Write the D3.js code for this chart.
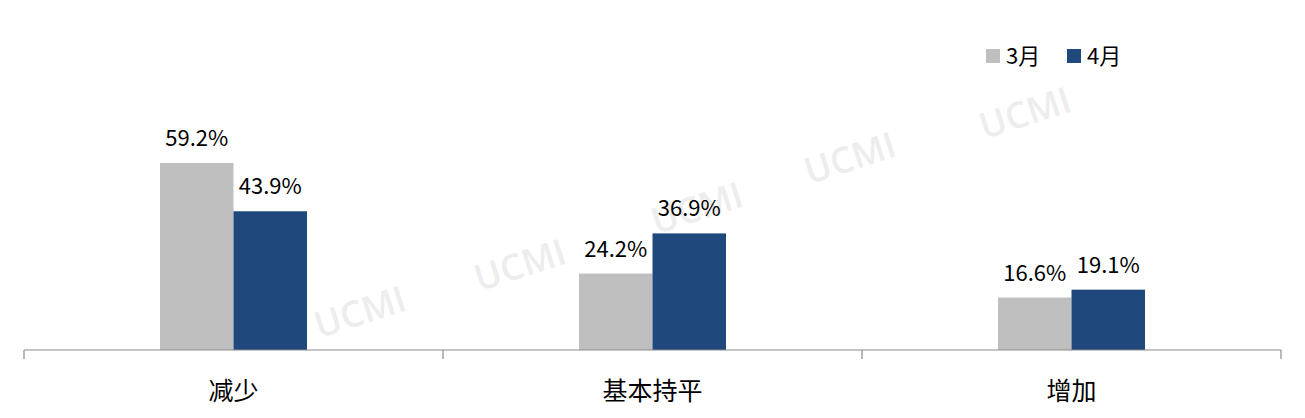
<!DOCTYPE html>
<html><head><meta charset="utf-8">
<script src="https://cdn.jsdelivr.net/npm/d3@7/dist/d3.min.js"></script>
<style>body{margin:0;background:#fff}svg{display:block}</style>
</head><body>
<script>
const categories = ["减少", "基本持平", "增加"];
const seriesNames = ["3月", "4月"];
const march = [59.2, 24.2, 16.6];
const april = [43.9, 36.9, 19.1];
const seriesColors = ["#bfbfbf", "#1f497d"];
const watermarks = ["UCMI", "UCMI", "UCMI", "UCMI", "UCMI"];

const W = 1305, H = 418;
const font = "'Microsoft YaHei','Noto Sans CJK SC','Noto Sans',sans-serif";
const svg = d3.select("body").append("svg").attr("width", W).attr("height", H);

// watermarks
const wmPos = [[360, 312], [520, 265], [697, 208], [850, 158], [1025, 113]];
svg.append("g").selectAll("text").data(watermarks).join("text")
  .attr("transform", (d, i) => `translate(${wmPos[i][0]},${wmPos[i][1]}) rotate(-18)`)
  .attr("text-anchor", "middle").attr("dy", "0.35em")
  .attr("font-family", "'Open Sans','DejaVu Sans',sans-serif").attr("font-weight", 600)
  .attr("font-size", 36).attr("fill", "#ededed").text(d => d);

const x0 = d3.scaleBand().domain(categories).range([24, 1281]).padding(0);
const cw = x0.bandwidth();
const x1 = d3.scaleBand().domain(seriesNames).range([cw / 2 - 73.5, cw / 2 + 73.5]).padding(0);
const y = d3.scaleLinear().domain([0, 100]).range([350, 34]);

const data = categories.map((c, i) => ({ cat: c, vals: [march[i], april[i]] }));
const g = svg.append("g");
const groups = g.selectAll("g.grp").data(data).join("g").attr("class", "grp")
  .attr("transform", d => `translate(${x0(d.cat)},0)`);
groups.selectAll("rect").data(d => d.vals.map((v, j) => ({ s: seriesNames[j], v, j })))
  .join("rect")
  .attr("x", d => x1(d.s)).attr("width", x1.bandwidth())
  .attr("y", d => y(d.v)).attr("height", d => y(0) - y(d.v))
  .attr("fill", d => seriesColors[d.j]);
groups.selectAll("text.val").data(d => d.vals.map((v, j) => ({ s: seriesNames[j], v, j })))
  .join("text").attr("class", "val")
  .attr("x", d => x1(d.s) + x1.bandwidth() / 2).attr("y", d => y(d.v) - 17)
  .attr("text-anchor", "middle").attr("font-family", font).attr("font-size", 22)
  .attr("fill", "#000").text(d => d.v.toFixed(1) + "%");

// axis
const axis = svg.append("g").attr("transform", `translate(0,${y(0)})`);
axis.append("line").attr("x1", 24).attr("x2", 1281).attr("stroke", "#8c8c8c").attr("stroke-width", 1.2);
const tickXs = categories.map(c => x0(c)).concat([x0(categories[categories.length - 1]) + cw]);
axis.selectAll("line.tk").data(tickXs).join("line").attr("class", "tk")
  .attr("x1", d => d).attr("x2", d => d).attr("y1", 0).attr("y2", 9)
  .attr("stroke", "#8c8c8c").attr("stroke-width", 1.2);
axis.selectAll("text").data(categories).join("text")
  .attr("x", d => x0(d) + cw / 2).attr("y", 50)
  .attr("text-anchor", "middle").attr("font-family", font).attr("font-size", 25)
  .attr("fill", "#000").text(d => d);

// legend
const leg = svg.append("g");
const legX = [986, 1067];
seriesNames.forEach((s, i) => {
  leg.append("rect").attr("x", legX[i]).attr("y", 49).attr("width", 14).attr("height", 14).attr("fill", seriesColors[i]);
  leg.append("text").attr("x", legX[i] + 20).attr("y", 64).attr("font-family", font).attr("font-size", 22)
    .attr("fill", "#000").text(s);
});
</script>
</body></html>
